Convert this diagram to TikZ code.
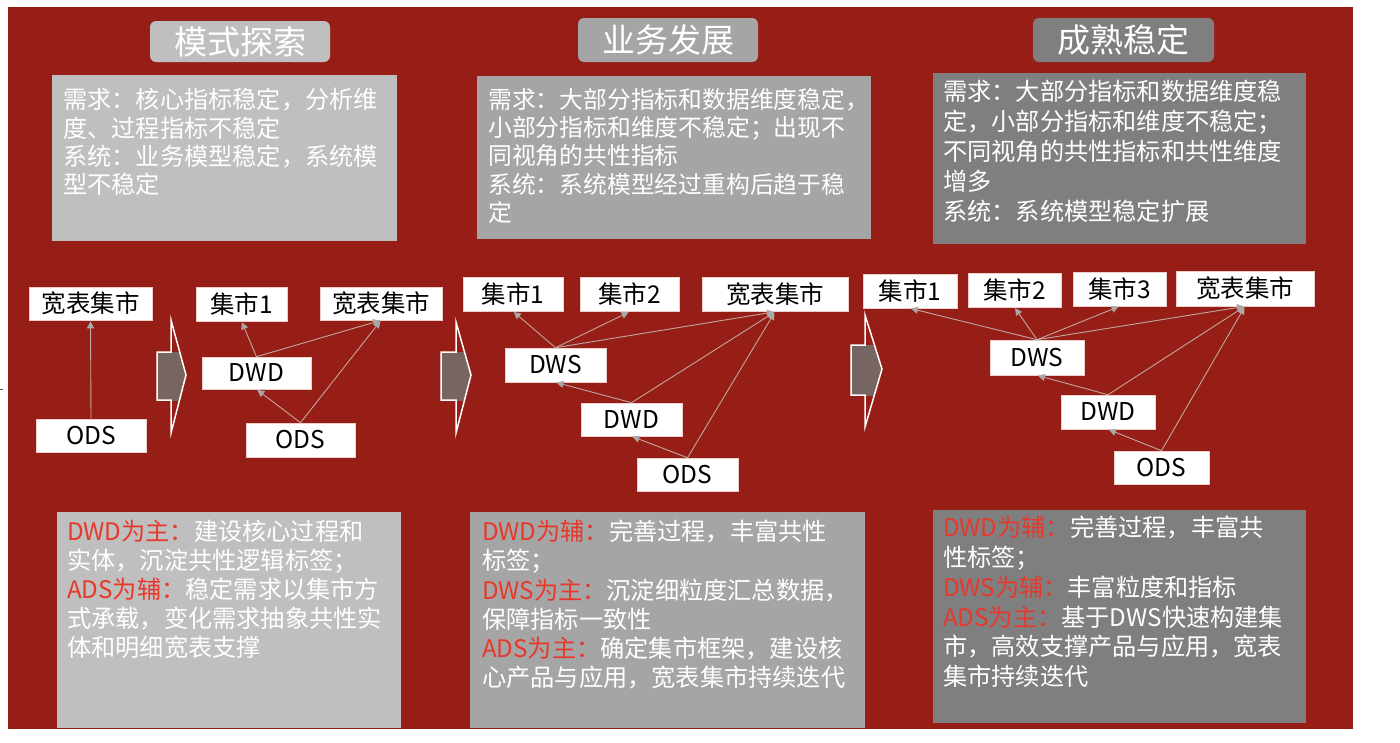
\documentclass[tikz,border=0pt]{standalone}
\usepackage{fontspec}
\setmainfont{Noto Sans CJK SC}
\usetikzlibrary{arrows.meta}
\definecolor{bgred}{HTML}{961E16}
\definecolor{gA}{HTML}{BFBFBF}
\definecolor{gB}{HTML}{A5A5A5}
\definecolor{gC}{HTML}{7F7F7F}
\definecolor{lbl}{HTML}{E8382C}
\definecolor{arrowc}{HTML}{766560}
\definecolor{connc}{HTML}{C0A7A2}
\definecolor{tipc}{HTML}{A9A9A9}
\definecolor{boxline}{HTML}{EBCFC8}
\newcommand{\hl}[1]{\textcolor{lbl}{#1}}
\tikzset{
  lay/.style={draw=boxline, fill=white, line width=0.6pt, inner sep=0pt,
    font=\fontsize{24.5}{27}\selectfont, text=black},
  ttl/.style={rounded corners=6pt, inner sep=0pt, text=white,
    font=\fontsize{33}{36}\selectfont},
  panel/.style={anchor=north west, inner sep=0pt},
  ptext/.style={anchor=north west, inner sep=0pt, align=left, text=white},
  conn/.style={draw=connc, line width=0.9pt,
    -{Triangle[width=7pt,length=7pt,color=tipc]}, shorten >=1pt},
  blockarrow/.style={draw=white, line width=1.5pt, line join=miter},
}
\begin{document}
\begin{tikzpicture}[x=1pt,y=-1pt]
\useasboundingbox (0,0) rectangle (1400,742);
\fill[white] (0,0) rectangle (1400,742);
\fill[bgred] (8,7) rectangle (1353,729);
\draw[black!70, line width=0.8pt] (0,389) -- (3,389);

% titles
\node[ttl, fill=gA, minimum width=180pt, minimum height=41pt] (t1) at (240,41.5) {模式探索};
\node[ttl, fill=gB, minimum width=180pt, minimum height=44pt] (t2) at (668,40) {业务发展};
\node[ttl, fill=gC, minimum width=181pt, minimum height=44pt] (t3) at (1123.5,40) {成熟稳定};

% requirement panels
\node[panel, fill=gA, minimum width=345pt, minimum height=166pt] (r1) at (52,75) {};
\node[panel, fill=gB, minimum width=394pt, minimum height=163pt] (r2) at (477,76) {};
\node[panel, fill=gC, minimum width=373pt, minimum height=171pt] (r3) at (933,73) {};

\node[ptext, font=\fontsize{24.2}{28.4}\selectfont] (r1t) at (63,88) {需求：核心指标稳定，分析维\\度、过程指标不稳定\\系统：业务模型稳定，系统模\\型不稳定};
\node[ptext, font=\fontsize{23.8}{28.3}\selectfont] (r2t) at (488,88) {需求：大部分指标和数据维度稳定，\\小部分指标和维度不稳定；出现不\\同视角的共性指标\\系统：系统模型经过重构后趋于稳\\定};
\node[ptext, font=\fontsize{24.2}{30}\selectfont] (r3t) at (943,80) {需求：大部分指标和数据维度稳\\定，小部分指标和维度不稳定；\\不同视角的共性指标和共性维度\\增多\\系统：系统模型稳定扩展};

% bottom panels
\node[panel, fill=gA, minimum width=344pt, minimum height=216pt] (b1) at (57,512) {};
\node[panel, fill=gB, minimum width=395pt, minimum height=216pt] (b2) at (470,512) {};
\node[panel, fill=gC, minimum width=373pt, minimum height=213pt] (b3) at (933,510) {};

\node[ptext, font=\fontsize{24.2}{29}\selectfont] (b1t) at (67,520) {\hl{DWD为主：}建设核心过程和\\实体，沉淀共性逻辑标签；\\\hl{ADS为辅：}稳定需求以集市方\\式承载，变化需求抽象共性实\\体和明细宽表支撑};
\node[ptext, font=\fontsize{24.2}{29.2}\selectfont] (b2t) at (482,520) {\hl{DWD为辅：}完善过程，丰富共性\\标签；\\\hl{DWS为主：}沉淀细粒度汇总数据，\\保障指标一致性\\\hl{ADS为主：}确定集市框架，建设核\\心产品与应用，宽表集市持续迭代};
\node[ptext, font=\fontsize{24.2}{29.8}\selectfont] (b3t) at (943,516) {\hl{DWD为辅：}完善过程，丰富共\\性标签；\\\hl{DWS为辅：}丰富粒度和指标\\\hl{ADS为主：}基于DWS快速构建集\\市，高效支撑产品与应用，宽表\\集市持续迭代};

% block arrows
\begin{scope}
\clip (0,352) rectangle (1400,400);
\fill[arrowc] (157,352) -- (171,352) -- (171,320) -- (186,375) -- (171,433) -- (171,400) -- (157,400) -- cycle;
\end{scope}
\draw[blockarrow] (157,352) -- (171,352) -- (171,320) -- (186,375) -- (171,433) -- (171,400) -- (157,400) -- cycle;
\begin{scope}
\clip (0,352) rectangle (1400,400);
\fill[arrowc] (441,352) -- (456,352) -- (456,322) -- (471,375) -- (456,433) -- (456,400) -- (441,400) -- cycle;
\end{scope}
\draw[blockarrow] (441,352) -- (456,352) -- (456,322) -- (471,375) -- (456,433) -- (456,400) -- (441,400) -- cycle;
\begin{scope}
\clip (0,345) rectangle (1400,395);
\fill[arrowc] (851,345) -- (865,345) -- (865,315) -- (882,369) -- (865,427) -- (865,395) -- (851,395) -- cycle;
\end{scope}
\draw[blockarrow] (851,345) -- (865,345) -- (865,315) -- (882,369) -- (865,427) -- (865,395) -- (851,395) -- cycle;

% stage 1
\node[lay, minimum width=123pt, minimum height=33pt] (w1) at (90.5,303.5) {宽表集市};
\node[lay, minimum width=110pt, minimum height=33pt] (o1) at (91,435.5) {ODS};
\draw[conn] (o1.north) -- (w1.south);

% stage 1b
\node[lay, minimum width=91pt, minimum height=34pt] (m1a) at (241.5,304) {集市1};
\node[lay, minimum width=122pt, minimum height=33pt] (w1b) at (381,303.5) {宽表集市};
\node[lay, minimum width=109pt, minimum height=32pt] (dwd1) at (256.5,373) {DWD};
\node[lay, minimum width=109pt, minimum height=34pt] (ods1) at (300.5,440) {ODS};
\draw[conn] (dwd1.north) -- (m1a.south);
\draw[conn] (dwd1.north) -- (w1b.south);
\draw[conn] (ods1.north) -- (dwd1.south);
\draw[conn] (ods1.north) -- (w1b.south);

% stage 2
\node[lay, minimum width=100pt, minimum height=34pt] (m21) at (513,294) {集市1};
\node[lay, minimum width=99pt, minimum height=34pt] (m22) at (629.5,294.5) {集市2};
\node[lay, minimum width=146pt, minimum height=34pt] (w2) at (775,294.5) {宽表集市};
\node[lay, minimum width=101pt, minimum height=34pt] (dws2) at (555.5,365) {DWS};
\node[lay, minimum width=101pt, minimum height=33pt] (dwd2) at (631.5,419.5) {DWD};
\node[lay, minimum width=101pt, minimum height=33pt] (ods2) at (687.5,474.5) {ODS};
\draw[conn] (dws2.north) -- (m21.south);
\draw[conn] (dws2.north) -- (m22.south);
\draw[conn] (dws2.north) -- (w2.south);
\draw[conn] (dwd2.north) -- (dws2.south);
\draw[conn] (dwd2.north) -- (w2.south);
\draw[conn] (ods2.north) -- (dwd2.south);
\draw[conn] (ods2.north) -- (w2.south);

% stage 3
\node[lay, minimum width=94pt, minimum height=34pt] (m31) at (910,291) {集市1};
\node[lay, minimum width=93pt, minimum height=34pt] (m32) at (1014.5,290) {集市2};
\node[lay, minimum width=93pt, minimum height=34pt] (m33) at (1119.5,289) {集市3};
\node[lay, minimum width=138pt, minimum height=35pt] (w3) at (1245,288.5) {宽表集市};
\node[lay, minimum width=94pt, minimum height=35pt] (dws3) at (1037,357.5) {DWS};
\node[lay, minimum width=94pt, minimum height=34pt] (dwd3) at (1108,412) {DWD};
\node[lay, minimum width=95pt, minimum height=33pt] (ods3) at (1161.5,467.5) {ODS};
\draw[conn] (dws3.north) -- (m31.south);
\draw[conn] (dws3.north) -- (m32.south);
\draw[conn] (dws3.north) -- (m33.south);
\draw[conn] (dws3.north) -- (w3.south);
\draw[conn] (dwd3.north) -- (dws3.south);
\draw[conn] (dwd3.north) -- (w3.south);
\draw[conn] (ods3.north) -- (dwd3.south);
\draw[conn] (ods3.north) -- (w3.south);
\end{tikzpicture}
\end{document}
